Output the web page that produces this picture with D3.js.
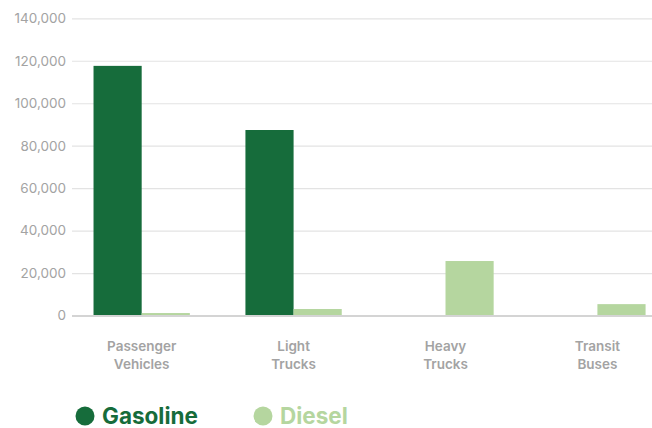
<!DOCTYPE html>
<html><head><meta charset="utf-8">
<script src="https://cdn.jsdelivr.net/npm/d3@7"></script>
<style>body{margin:0;background:#fff;font-family:Inter,Roboto,sans-serif}</style>
</head><body><svg id="c" width="652" height="428"></svg>
<script>
const categories = [["Passenger","Vehicles"],["Light","Trucks"],["Heavy","Trucks"],["Transit","Buses"]];
const gasoline = [117600, 87400, 0, 0];
const diesel = [1200, 3100, 25700, 5400];
const yTicks = [0,20000,40000,60000,80000,100000,120000,140000];
const seriesNames = ["Gasoline","Diesel"];
const colors = ["#166c3b","#b5d69f"];

(function(){
const svg = d3.select("#c");
const mLeft = 72, mRight = 652, mTop = 18.3, mBottom = 315.6;
const y = d3.scaleLinear().domain([0,140000]).range([mBottom, mTop]);
const keys = categories.map(c=>c.join(" "));
const x = d3.scaleBand().domain(keys).range([mLeft,mRight]).paddingInner(0.366).paddingOuter(0.092).align(0.77);
const x1 = d3.scaleBand().domain(seriesNames).range([0, x.bandwidth()]);

const yAxis = d3.axisLeft(y).tickValues(yTicks).tickSize(-(mRight-mLeft)).tickFormat(d3.format(","));
const ga = svg.append("g").attr("transform",`translate(${mLeft},0)`).call(yAxis);
ga.select(".domain").remove();
ga.selectAll(".tick line").attr("stroke","#e3e3e3").attr("stroke-width",1.2);
ga.selectAll(".tick text").attr("x",-6).attr("fill","#a3a3a3").attr("font-size",13.5).attr("font-family","Inter,Roboto,sans-serif");

const series = [gasoline, diesel];
series.forEach((vals,si)=>{
  svg.append("g").selectAll("rect").data(vals).join("rect")
    .attr("x",(d,i)=>x(keys[i])+x1(seriesNames[si]))
    .attr("width",x1.bandwidth())
    .attr("y",d=>y(d))
    .attr("height",d=>y(0)-y(d))
    .attr("fill",colors[si]);
});
svg.append("line").attr("x1",mLeft).attr("x2",mRight).attr("y1",y(0)+0.5).attr("y2",y(0)+0.5).attr("stroke","#d4d4d4").attr("stroke-width",2);

const cl = svg.append("g");
categories.forEach((c,i)=>{
  const cx = x(keys[i])+x.bandwidth()/2;
  const t = cl.append("text").attr("x",cx).attr("y",351)
    .attr("text-anchor","middle").attr("fill","#a3a3a3").attr("font-size",13.5).attr("font-weight",600);
  c.forEach((line,j)=>t.append("tspan").attr("x",cx).attr("dy",j?18:0).text(line));
});

const lg = svg.append("g");
const lx = [85, 263];
seriesNames.forEach((n,i)=>{
  lg.append("circle").attr("cx",lx[i]).attr("cy",416).attr("r",9.5).attr("fill",colors[i]);
  lg.append("text").attr("x",lx[i]+17).attr("y",424).attr("fill",colors[i])
    .attr("font-size",22.5).attr("font-weight",700).text(n);
});
})();
</script></body></html>
